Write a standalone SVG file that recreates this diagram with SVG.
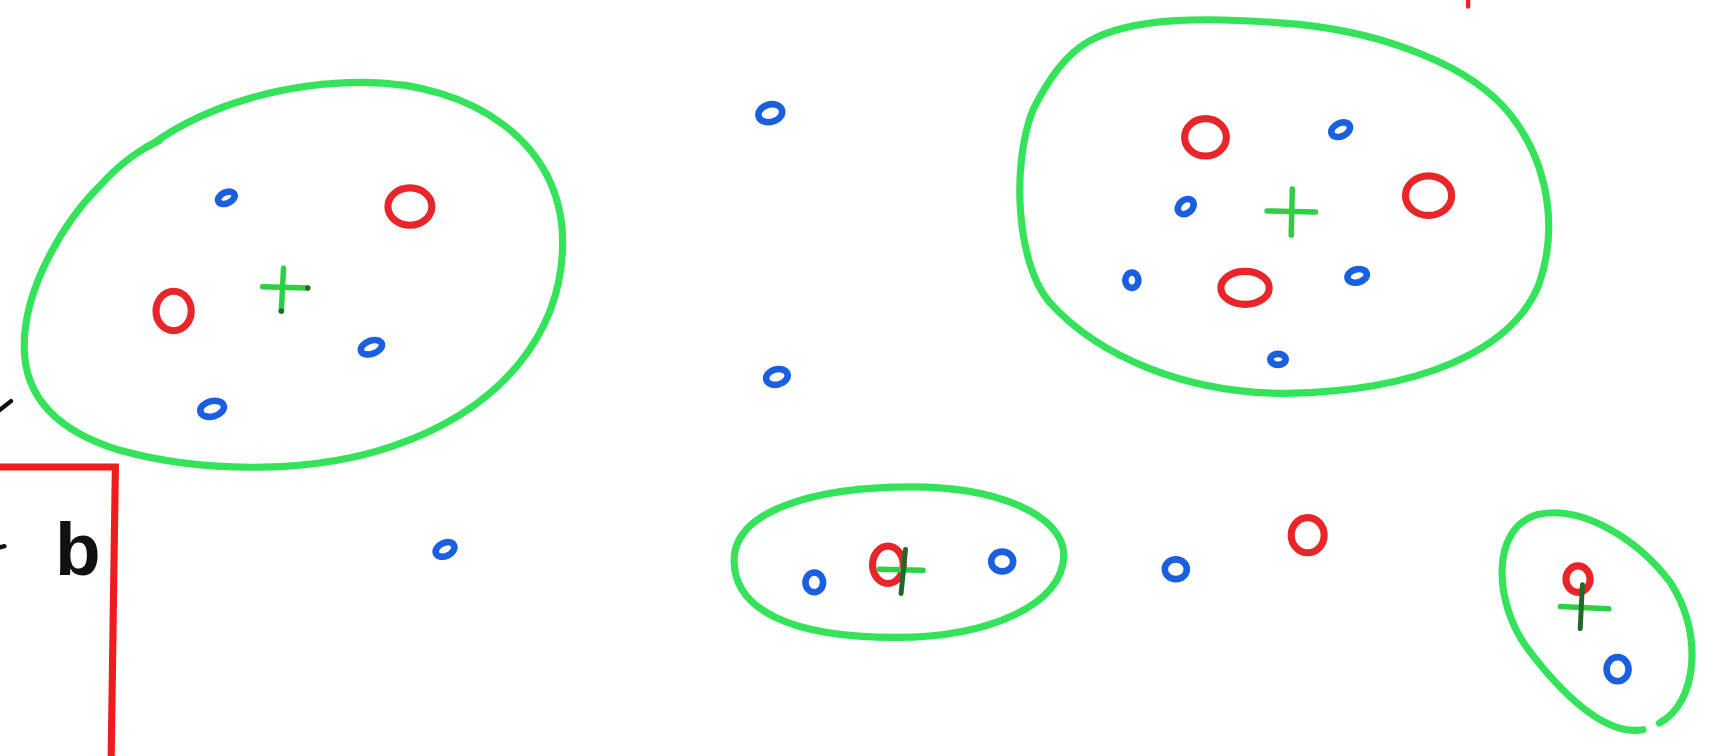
<svg xmlns="http://www.w3.org/2000/svg" width="1723" height="756" viewBox="0 0 1723 756">
<style>
.g{fill:none;stroke:#35e35a;stroke-width:6.5;stroke-linecap:round;stroke-linejoin:round}
.r{fill:none;stroke:#e8262a;stroke-width:6.5}
.b{fill:none;stroke:#1a5fe0;stroke-width:6}
.p{stroke:#2fcf45;stroke-width:5;stroke-linecap:round}
.pk{stroke:#1e6a2a;stroke-width:4.5;stroke-linecap:round}
.k{stroke:#111;stroke-width:4;stroke-linecap:round}
.txt{font-family:"Liberation Sans",Arial,sans-serif;font-weight:bold;fill:#111}
</style>
<rect width="1723" height="756" fill="#fff"/>
<g transform="scale(1.0989)">
<g id="cluster-left">
<path class="g" d="M140,130 C190,95 260,75 330,75 C430,75 512,130 512,220 C512,300 460,370 360,405 C290,430 190,432 110,410 C50,392 22,360 22,315 C22,260 60,200 90,170 C108,150 122,140 140,130 Z"/>
<path class="g" d="M133,134 L145,128"/>
<ellipse class="b" cx="206" cy="180" rx="8" ry="5" transform="rotate(-25 206 180)"/>
<ellipse class="r" cx="373" cy="188" rx="20" ry="17"/>
<ellipse class="r" cx="158" cy="283" rx="16" ry="18"/>
<line class="p" x1="239" y1="261" x2="280" y2="262"/>
<line class="p" x1="258" y1="244" x2="256" y2="283"/>
<circle cx="280" cy="262" r="2.5" fill="#1e6a2a"/>
<circle cx="256" cy="283" r="2.5" fill="#1e6a2a"/>
<ellipse class="b" cx="338" cy="316" rx="10" ry="6" transform="rotate(-20 338 316)"/>
<ellipse class="b" cx="193" cy="372" rx="11" ry="7" transform="rotate(-15 193 372)"/>
</g>
<g id="cluster-right">
<path class="g" d="M990,38 C1030,15 1100,15 1180,22 C1260,30 1340,60 1375,105 C1410,150 1418,210 1400,260 C1375,320 1290,356 1170,358 C1080,358 1000,325 955,275 C925,240 920,150 940,100 C955,70 970,50 990,38 Z"/>
<ellipse class="r" cx="1097" cy="125" rx="19" ry="17"/>
<ellipse class="b" cx="1220" cy="118" rx="9" ry="6" transform="rotate(-25 1220 118)"/>
<ellipse class="r" cx="1300" cy="178" rx="21" ry="18"/>
<ellipse class="b" cx="1079" cy="188" rx="8" ry="6" transform="rotate(-40 1079 188)"/>
<line class="p" x1="1153" y1="192" x2="1197" y2="193"/>
<line class="p" x1="1176" y1="172" x2="1175" y2="214"/>
<ellipse class="b" cx="1030" cy="255" rx="6" ry="7"/>
<ellipse class="r" cx="1133" cy="262" rx="22" ry="15"/>
<ellipse class="b" cx="1235" cy="251" rx="9" ry="6" transform="rotate(-15 1235 251)"/>
<ellipse class="b" cx="1163" cy="327" rx="7" ry="5"/>
</g>
<g id="cluster-middle">
<path class="g" d="M830,443 C910,443 968,470 968,505 C968,550 900,580 815,580 C720,580 668,555 668,510 C668,465 740,443 830,443 Z"/>
<ellipse class="b" cx="741" cy="530" rx="8" ry="9"/>
<ellipse class="r" cx="808" cy="514" rx="14" ry="17"/>
<line class="p" x1="800" y1="518" x2="840" y2="519"/>
<line class="pk" x1="824" y1="500" x2="820" y2="540"/>
<ellipse class="b" cx="912" cy="511" rx="10" ry="9" fill="#1a5fe0"/>
</g>
<g id="cluster-small">
<path class="g" d="M1495,664 C1460,670 1420,630 1390,590 C1360,550 1355,480 1400,468 C1440,460 1490,490 1520,530 C1550,575 1545,640 1510,658"/>
<ellipse class="r" cx="1436" cy="527" rx="11" ry="12"/>
<line class="p" x1="1420" y1="552" x2="1464" y2="554"/>
<line class="pk" x1="1440" y1="532" x2="1438" y2="572"/>
<ellipse class="b" cx="1472" cy="609" rx="10" ry="11"/>
</g>
<g id="points">
<ellipse class="b" cx="701" cy="103" rx="11" ry="8" transform="rotate(-15 701 103)"/>
<ellipse class="b" cx="707" cy="343" rx="10" ry="7" transform="rotate(-15 707 343)"/>
<ellipse class="b" cx="405" cy="500" rx="9" ry="6" transform="rotate(-25 405 500)"/>
<ellipse class="b" cx="1070" cy="518" rx="10" ry="9"/>
<ellipse class="r" cx="1190" cy="487" rx="15" ry="16"/>
</g>
<g id="box">
<path fill="none" stroke="#ee1c1c" stroke-width="6.5" d="M-5,425 L105,425 L101,700"/>
<text class="txt" x="50" y="523" font-size="68">b</text>
<line class="k" x1="0" y1="498" x2="4" y2="497"/>
<line class="k" x1="0" y1="373" x2="10" y2="365"/>
<line stroke="#e8262a" stroke-width="4" stroke-linecap="round" x1="1336" y1="0" x2="1336" y2="6"/>
</g>
</g>
</svg>
